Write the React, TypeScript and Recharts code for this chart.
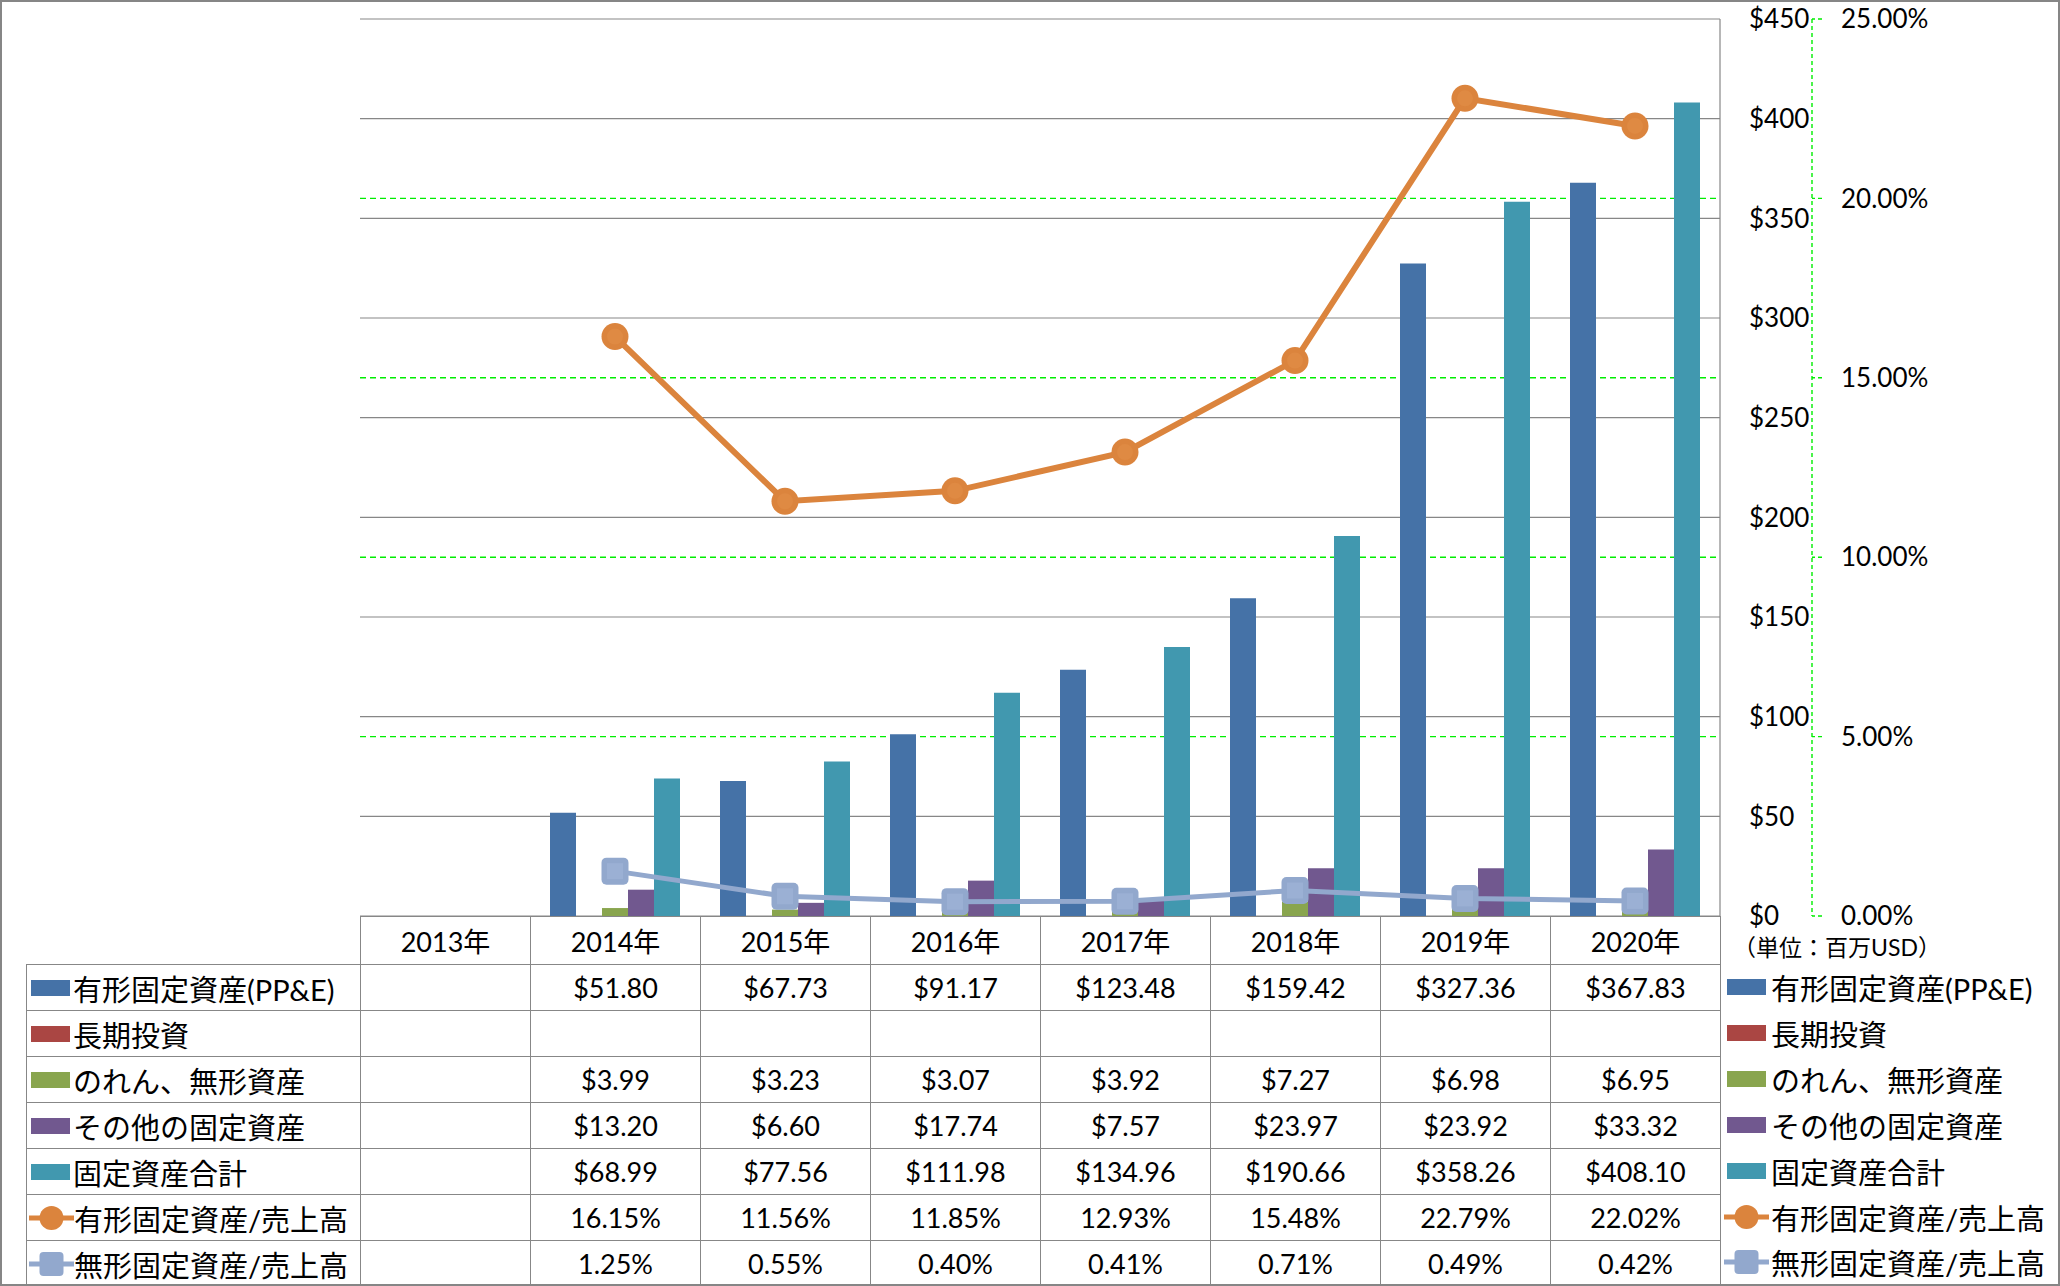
import React from 'react';
import { ComposedChart, Bar, Line, XAxis, YAxis, CartesianGrid } from 'recharts';

const years = ['2013年', '2014年', '2015年', '2016年', '2017年', '2018年', '2019年', '2020年'];
const ppe = [null, 51.8, 67.73, 91.17, 123.48, 159.42, 327.36, 367.83];
const longInvest = [null, null, null, null, null, null, null, null];
const goodwill = [null, 3.99, 3.23, 3.07, 3.92, 7.27, 6.98, 6.95];
const otherFixed = [null, 13.2, 6.6, 17.74, 7.57, 23.97, 23.92, 33.32];
const totalFixed = [null, 68.99, 77.56, 111.98, 134.96, 190.66, 358.26, 408.1];
const ppeRatio = [null, 16.15, 11.56, 11.85, 12.93, 15.48, 22.79, 22.02];
const intangRatio = [null, 1.25, 0.55, 0.4, 0.41, 0.71, 0.49, 0.42];

const usdTicks = [0, 50, 100, 150, 200, 250, 300, 350, 400, 450];
const pctTicks = [0, 5, 10, 15, 20, 25];
const pctGrid = [5, 10, 15, 20];

const FONT = "Lato, 'Noto Sans CJK JP', sans-serif";
const GRID = '#878787';
const ORANGE = '#DB843D';
const LIGHTBLUE = '#92A8CD';

type Series = { key: string; name: string; color: string; kind: 'bar' | 'line'; values: (number | null)[] };

const series: Series[] = [
  { key: 'ppe', name: '有形固定資産(PP&E)', color: '#4572A7', kind: 'bar', values: ppe },
  { key: 'longInvest', name: '長期投資', color: '#AA4643', kind: 'bar', values: longInvest },
  { key: 'goodwill', name: 'のれん、無形資産', color: '#89A54E', kind: 'bar', values: goodwill },
  { key: 'otherFixed', name: 'その他の固定資産', color: '#71588F', kind: 'bar', values: otherFixed },
  { key: 'totalFixed', name: '固定資産合計', color: '#4198AF', kind: 'bar', values: totalFixed },
  { key: 'ppeRatio', name: '有形固定資産/売上高', color: ORANGE, kind: 'line', values: ppeRatio },
  { key: 'intangRatio', name: '無形固定資産/売上高', color: LIGHTBLUE, kind: 'line', values: intangRatio },
];

const data = years.map((year, i) => {
  const row: Record<string, any> = { year };
  series.forEach((s) => (row[s.key] = s.values[i]));
  return row;
});

const fmtCell = (s: Series, v: number | null) => {
  if (v == null) return '';
  return s.kind === 'line' ? `${v.toFixed(2)}%` : `$${v.toFixed(2)}`;
};

const OrangeDot = (props: any) => {
  const { cx, cy } = props;
  if (cx == null || cy == null) return null;
  return (
    <g>
      <circle cx={cx} cy={cy} r={13.5} fill={ORANGE} />
      <circle cx={cx} cy={cy} r={8} fill="#DF8A43" />
    </g>
  );
};

const BlueDot = (props: any) => {
  const { cx, cy } = props;
  if (cx == null || cy == null) return null;
  return (
    <g>
      <rect x={cx - 13.5} y={cy - 13.5} width={27} height={27} rx={5} fill={LIGHTBLUE} />
      <rect x={cx - 8} y={cy - 8} width={16} height={16} fill="#9BB0D4" />
    </g>
  );
};

function LegendKey({ s }: { s: Series }) {
  if (s.kind === 'bar') {
    return <span style={{ display: 'inline-block', width: 39, height: 16, background: s.color, marginRight: 3, flex: 'none' }} />;
  }
  return (
    <svg width={45} height={30} style={{ flex: 'none' }}>
      <line x1={0} y1={15} x2={45} y2={15} stroke={s.color} strokeWidth={5} />
      {s.key === 'ppeRatio' ? (
        <circle cx={22.5} cy={15} r={12} fill={s.color} />
      ) : (
        <rect x={10.5} y={3} width={24} height={24} rx={4} fill={s.color} />
      )}
    </svg>
  );
}

const cell: React.CSSProperties = {
  border: `1px solid ${GRID}`,
  padding: 0,
  textAlign: 'center',
  verticalAlign: 'middle',
};

export default function App() {
  return (
    <div style={{ position: 'absolute', left: 0, top: 0, width: 2060, height: 1286, background: '#fff', fontFamily: FONT, overflow: 'hidden' }}>
      <div style={{ position: 'absolute', left: 0, top: 0 }}>
        <ComposedChart
          width={2060}
          height={1286}
          data={data}
          margin={{ top: 19, left: 360, right: 128, bottom: 370 }}
          barCategoryGap={20}
          barGap={0}
        >
          <CartesianGrid yAxisId="b_pct" vertical={false} horizontal horizontalValues={pctGrid} stroke="#00EE00" strokeWidth={1.4} strokeDasharray="6 4" />
          <CartesianGrid yAxisId="a_usd" vertical={false} horizontal stroke={GRID} strokeWidth={1.2} />
          <XAxis dataKey="year" hide />
          <YAxis
            yAxisId="a_usd"
            orientation="right"
            width={92}
            domain={[0, 450]}
            ticks={usdTicks}
            interval={0}
            axisLine={{ stroke: GRID, strokeWidth: 1.2 }}
            tickLine={false}
            tickSize={0}
            tickMargin={29}
            tick={{ fill: '#000', fontSize: 26, fontFamily: FONT }}
            tickFormatter={(v: number) => `$${v}`}
          />
          <YAxis
            yAxisId="b_pct"
            orientation="right"
            width={120}
            domain={[0, 25]}
            ticks={pctTicks}
            interval={0}
            axisLine={{ stroke: '#00EE00', strokeWidth: 1.4, strokeDasharray: '4 3' }}
            tickLine={{ stroke: '#00EE00', strokeWidth: 1.4, strokeDasharray: '4 3' }}
            tickSize={10}
            tickMargin={19}
            tick={{ fill: '#000', fontSize: 26, fontFamily: FONT }}
            tickFormatter={(v: number) => `${v.toFixed(2)}%`}
          />
          {series
            .filter((s) => s.kind === 'bar')
            .map((s) => (
              <Bar key={s.key} yAxisId="a_usd" dataKey={s.key} name={s.name} fill={s.color} isAnimationActive={false} />
            ))}
          <Line
            yAxisId="b_pct"
            dataKey="ppeRatio"
            name="有形固定資産/売上高"
            stroke={ORANGE}
            strokeWidth={6}
            dot={OrangeDot}
            activeDot={false}
            isAnimationActive={false}
          />
          <Line
            yAxisId="b_pct"
            dataKey="intangRatio"
            name="無形固定資産/売上高"
            stroke={LIGHTBLUE}
            strokeWidth={5}
            dot={BlueDot}
            activeDot={false}
            isAnimationActive={false}
          />
        </ComposedChart>
      </div>

      <table
        style={{
          position: 'absolute',
          left: 26,
          top: 916,
          width: 1694,
          borderCollapse: 'collapse',
          tableLayout: 'fixed',
          fontSize: 27,
          color: '#000',
          fontFamily: FONT,
        }}
      >
        <colgroup>
          <col style={{ width: 334 }} />
          {years.map((y) => (
            <col key={y} style={{ width: 170 }} />
          ))}
        </colgroup>
        <tbody>
          <tr style={{ height: 48 }}>
            <td style={{ border: 'none', padding: 0 }} />
            {years.map((y) => (
              <td key={y} style={cell}>
                {y}
              </td>
            ))}
          </tr>
          {series.map((s) => (
            <tr key={s.key} style={{ height: 46 }}>
              <td style={{ ...cell, textAlign: 'left' }}>
                <div style={{ display: 'flex', alignItems: 'center', paddingLeft: s.kind === 'bar' ? 4 : 2, fontSize: 29, whiteSpace: 'nowrap' }}>
                  <LegendKey s={s} />
                  <span>{s.name}</span>
                </div>
              </td>
              {s.values.map((v, i) => (
                <td key={i} style={cell}>
                  {fmtCell(s, v)}
                </td>
              ))}
            </tr>
          ))}
        </tbody>
      </table>

      <div style={{ position: 'absolute', left: 1733, top: 932, fontSize: 23, lineHeight: '30px', whiteSpace: 'nowrap' }}>
        （単位：百万USD）
      </div>

      {series.map((s, i) => (
        <div
          key={s.key}
          style={{
            position: 'absolute',
            left: s.kind === 'bar' ? 1727 : 1724,
            top: 964 + i * 45.9,
            height: 46,
            display: 'flex',
            alignItems: 'center',
            fontSize: 29,
            whiteSpace: 'nowrap',
          }}
        >
          <LegendKey s={s} />
          <span style={{ marginLeft: 2 }}>{s.name}</span>
        </div>
      ))}

      <div style={{ position: 'absolute', left: 0, top: 0, width: 2060, height: 1286, boxSizing: 'border-box', border: '2px solid #868686', pointerEvents: 'none' }} />
    </div>
  );
}
